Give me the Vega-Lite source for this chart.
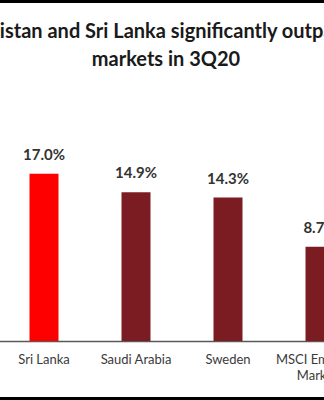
{
  "$schema": "https://vega.github.io/schema/vega-lite/v6.json",
  "width": 324,
  "height": 394,
  "autosize": {"type": "none"},
  "padding": {"top": 3, "bottom": 3, "left": 0, "right": 0},
  "background": "#000000",
  "config": {"view": {"fill": "#ffffff", "stroke": null}},
  "title": {
    "text": ["Pakistan and Sri Lanka significantly outpaced", "markets in 3Q20"],
    "font": "Lato",
    "fontSize": 20,
    "fontWeight": "bold",
    "color": "#1a1a1a",
    "anchor": "middle",
    "lineHeight": 28,
    "offset": -67,
    "dx": 4
  },
  "data": {
    "values": [
      {"market": "Sri Lanka", "value": 0.170},
      {"market": "Saudi Arabia", "value": 0.149},
      {"market": "Sweden", "value": 0.143},
      {"market": "MSCI Emerging Markets", "value": 0.087}
    ]
  },
  "encoding": {
    "x": {
      "field": "market",
      "type": "nominal",
      "sort": null,
      "scale": {
        "domain": ["Sri Lanka", "Saudi Arabia", "Sweden", "MSCI Emerging Markets"],
        "range": [-2, 366],
        "paddingInner": 0.685,
        "paddingOuter": 0.3425
      },
      "axis": {
        "title": null,
        "orient": "bottom",
        "offset": -56,
        "labelAngle": 0,
        "ticks": false,
        "labelFont": "Lato",
        "labelFontSize": 13,
        "labelColor": "#3a3a3a",
        "labelPadding": 12,
        "labelLimit": 0,
        "labelLineHeight": 16,
        "labelExpr": "datum.value == 'MSCI Emerging Markets' ? ['MSCI Emerging', 'Markets'] : datum.value",
        "domainColor": "#595959",
        "domainWidth": 1.5
      }
    },
    "y": {
      "field": "value",
      "type": "quantitative",
      "scale": {"domain": [-0.02, 0.2], "range": [338, 144.4]},
      "axis": null
    }
  },
  "layer": [
    {
      "mark": {"type": "bar"},
      "encoding": {
        "y2": {"datum": -0.02},
        "color": {
          "field": "market",
          "type": "nominal",
          "scale": {
            "domain": ["Sri Lanka", "Saudi Arabia", "Sweden", "MSCI Emerging Markets"],
            "range": ["#ff0000", "#7b1c22", "#7b1c22", "#7b1c22"]
          },
          "legend": null
        }
      }
    },
    {
      "mark": {
        "type": "text",
        "baseline": "bottom",
        "dy": -11,
        "font": "Lato",
        "fontSize": 15,
        "fontWeight": "bold",
        "color": "#333333"
      },
      "encoding": {
        "text": {"field": "value", "type": "quantitative", "format": ".1%"}
      }
    }
  ]
}
